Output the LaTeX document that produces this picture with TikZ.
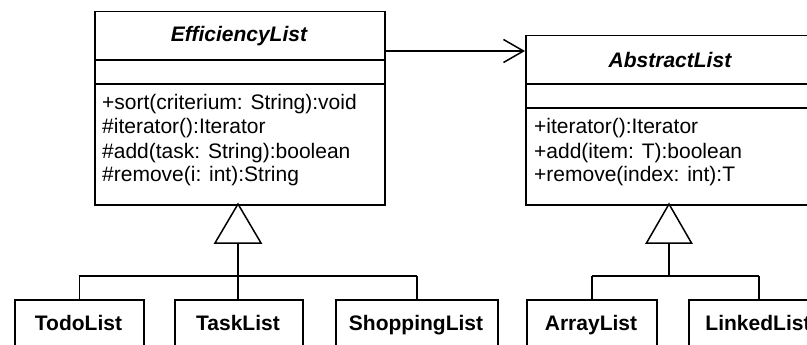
\documentclass[tikz,border=0pt]{standalone}
\usepackage{fontspec}
\setmainfont{Liberation Sans}
\usetikzlibrary{arrows.meta}
\tikzset{
  umlbox/.style={draw=black, line width=1.5pt, fill=white, rectangle, inner sep=0pt, anchor=north west},
  member/.style={anchor=base west, inner sep=0pt, font=\fontsize{21}{24}\selectfont},
  cname/.style={anchor=base, inner sep=0pt, font=\fontsize{21}{24}\selectfont\bfseries\itshape},
  sname/.style={anchor=base, inner sep=0pt, font=\fontsize{21}{24}\selectfont\bfseries},
  link/.style={draw=black, line width=1.5pt},
  gen/.style={draw=black, line width=1.5pt, fill=white, line join=miter},
}
\begin{document}
\begin{tikzpicture}[x=1pt, y=-1pt]
\useasboundingbox (0,0) rectangle (807,345);
\clip (0,0) rectangle (807,345);

% EfficiencyList class
\node[umlbox, minimum width=290pt, minimum height=193pt] (eff) at (94,11) {};
\draw[link] (94,60) -- (384,60);
\draw[link] (94,84) -- (384,84);
\node[cname] (effname) at (239,42) {EfficiencyList};
\node[member] (eff1) at (102,110) {+sort(criterium: String):void};
\node[member] (eff2) at (102,134) {\#iterator():Iterator};
\node[member] (eff3) at (102,158) {\#add(task: String):boolean};
\node[member] (eff4) at (102,182) {\#remove(i: int):String};

% AbstractList class
\node[umlbox, minimum width=290pt, minimum height=169pt] (abs) at (525,35) {};
\draw[link] (525,84) -- (815,84);
\draw[link] (525,108) -- (815,108);
\node[cname] (absname) at (670,68) {AbstractList};
\node[member] (abs1) at (534,134) {+iterator():Iterator};
\node[member] (abs2) at (534,158) {+add(item: T):boolean};
\node[member] (abs3) at (534,182) {+remove(index: int):T};

% association
\coordinate (assocstart) at (eff.east |- 0,51);
\coordinate (assocend) at (abs.west |- 0,51);
\draw[link, -{Straight Barb[length=20pt, width=23pt, line width=1.5pt]}] (assocstart) -- (assocend);

% subclasses
\node[umlbox, minimum width=129pt, minimum height=70pt] (todo) at (14,299) {};
\node[umlbox, minimum width=128pt, minimum height=70pt] (task) at (174,299) {};
\node[umlbox, minimum width=162pt, minimum height=70pt] (shop) at (335,299) {};
\node[umlbox, minimum width=130pt, minimum height=70pt] (arr) at (526,299) {};
\node[umlbox, minimum width=140pt, minimum height=70pt] (lnk) at (688,299) {};
\node[sname] (todot) at (78.5,330) {TodoList};
\node[sname] (taskt) at (238,330) {TaskList};
\node[sname] (shopt) at (416,330) {ShoppingList};
\node[sname] (arrt) at (591,330) {ArrayList};
\node[sname] (lnkt) at (758,330) {LinkedList};

% generalization to EfficiencyList
\coordinate (effapex) at (238,204);
\coordinate (effbase) at (238,243);
\coordinate (effjoin) at (238,276);
\draw[link] (effbase) -- (task.north -| effbase);
\draw[link] (todo.north |- effjoin) -- (shop.north |- effjoin);
\draw[link] (todo.north |- effjoin) -- (todo.north);
\draw[link] (shop.north |- effjoin) -- (shop.north);
\draw[gen] (effapex) -- ++(23,39) -- ++(-46,0) -- cycle;

% generalization to AbstractList
\coordinate (absapex) at (669,204);
\coordinate (absbase) at (669,243);
\coordinate (absjoin) at (669,276);
\draw[link] (absbase) -- (absjoin);
\draw[link] (arr.north |- absjoin) -- (lnk.north |- absjoin);
\draw[link] (arr.north |- absjoin) -- (arr.north);
\draw[link] (lnk.north |- absjoin) -- (lnk.north);
\draw[gen] (absapex) -- ++(22.5,39) -- ++(-45,0) -- cycle;
\end{tikzpicture}
\end{document}
